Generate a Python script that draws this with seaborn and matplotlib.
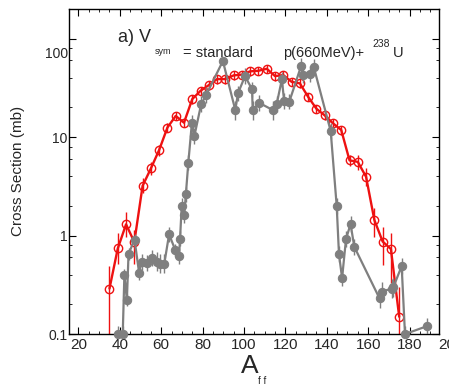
import matplotlib
matplotlib.use('Agg')
import matplotlib.pyplot as plt
import matplotlib.transforms as mtransforms
import numpy as np
import seaborn as sns
from matplotlib.ticker import MultipleLocator, LogLocator, FuncFormatter, NullFormatter

# calculation (open red circles)
red_a = [35, 39, 43, 47, 51, 55, 59, 63, 67, 71, 75, 79, 83, 87, 91, 95, 99, 103,
         107, 111, 115, 119, 123, 127, 131, 135, 139, 143, 147, 151, 155, 159, 163,
         167, 171, 175]
red_cs = [0.29, 0.74, 1.30, 0.86, 3.2, 4.8, 7.4, 12.5, 16.4, 14.0, 24.3, 29.5, 33.7,
          38.8, 38.8, 42.3, 43.1, 46.5, 47.1, 49.4, 41.6, 42.6, 36.4, 35.1, 25.6, 19.4,
          16.6, 13.8, 11.8, 5.8, 5.6, 3.95, 1.44, 0.87, 0.73, 0.15]
red_lo = [0.05, 0.52, 0.96, 0.51, 2.7, 4.1, 6.5, 11.2, 14.9, 12.6, 21.9, 26.6, 30.3,
          34.9, 34.9, 38.1, 38.8, 41.9, 42.4, 44.5, 37.4, 38.3, 32.8, 31.6, 23.0, 17.5,
          14.9, 12.4, 10.6, 5.1, 4.6, 3.2, 0.97, 0.50, 0.33, 0.05]
red_hi = [0.49, 1.05, 1.73, 1.14, 3.8, 5.6, 8.4, 14.0, 18.0, 15.4, 26.7, 32.4, 37.1,
          42.7, 42.7, 46.5, 47.4, 51.2, 51.8, 54.3, 45.8, 46.9, 40.0, 38.6, 28.2, 21.3,
          18.3, 15.2, 13.0, 6.6, 6.6, 4.8, 1.89, 1.23, 1.05, 0.30]

# experiment (filled grey circles)
gray_a = [39.3, 41.4, 42.2, 43.4, 44.2, 47.1, 49.3, 50.6, 53.0, 55.5,
          57.9, 59.5, 61.5, 63.8, 66.7, 68.6, 69.1, 69.9, 71.1, 71.9,
          73.1, 74.8, 76.0, 79.3, 81.7, 89.8, 95.8, 97.1, 100.5, 103.9,
          104.2, 107.3, 113.9, 115.8, 118.3, 119.4, 121.9, 127.6, 128.6, 131.9,
          133.7, 141.9, 144.8, 145.9, 147.4, 149.3, 151.5, 153.3, 165.5, 166.7,
          171.4, 172.2, 176.2, 177.8, 188.3]
gray_cs = [0.1, 0.1, 0.40, 0.22, 0.65, 0.91, 0.42, 0.54, 0.53, 0.59,
           0.54, 0.52, 0.52, 1.03, 0.72, 0.62, 0.93, 1.99, 1.61, 2.62,
           5.5, 13.8, 10.2, 21.6, 26.7, 59.2, 18.8, 27.8, 41.6, 30.5,
           18.8, 22.3, 18.8, 21.6, 38.5, 23.2, 22.9, 52.6, 42.6, 43.6,
           51.7, 11.5, 2.0, 0.65, 0.37, 0.92, 1.31, 0.77, 0.23, 0.27,
           0.29, 0.30, 0.49, 0.1, 0.12]
gray_err = [0.2, 0.2, 0.15, 0.15, 0.15, 0.15, 0.2, 0.2, 0.2, 0.2,
            0.25, 0.25, 0.25, 0.2, 0.15, 0.2, 0.2, 0.2, 0.2, 0.2,
            0.2, 0.2, 0.2, 0.2, 0.2, 0.1, 0.25, 0.2, 0.2, 0.2,
            0.25, 0.2, 0.25, 0.2, 0.2, 0.2, 0.2, 0.2, 0.2, 0.2,
            0.2, 0.2, 0.2, 0.2, 0.2, 0.2, 0.2, 0.2, 0.25, 0.25,
            0.25, 0.25, 0.2, 0.2, 0.2]

sns.set_style('ticks')
plt.rcParams['font.family'] = ['Liberation Sans', 'DejaVu Sans']

fig = plt.figure(figsize=(4.49, 3.88), dpi=100)
ax = fig.add_axes([0.154, 0.139, 0.824, 0.838])
ax.set_yscale('log')

red = '#ee1111'
grey = '#7f7f7f'

ax.vlines(red_a, red_lo, red_hi, color=red, lw=1.0, zorder=2)
sns.lineplot(x=red_a, y=red_cs, ax=ax, color=red, lw=1.7, marker='o',
             markersize=6, markerfacecolor='none', markeredgecolor=red,
             markeredgewidth=1.0, estimator=None, sort=False, zorder=3)

g = np.array(gray_cs)
e = np.array(gray_err)
ax.vlines(gray_a, g / (1 + e), g * (1 + e), color=grey, lw=1.0, zorder=4)
sns.lineplot(x=gray_a, y=gray_cs, ax=ax, color=grey, lw=1.6, marker='o',
             markersize=6, markerfacecolor=grey, markeredgecolor=grey,
             estimator=None, sort=False, zorder=5, clip_on=False)

ax.set_xlim(15.5, 194.3)
ax.set_ylim(0.1, 200)
ax.set_xlabel('')
ax.set_ylabel('')

ax.xaxis.set_major_locator(MultipleLocator(20))
ax.xaxis.set_minor_locator(MultipleLocator(5))
ax.yaxis.set_major_locator(LogLocator(base=10))
ax.yaxis.set_minor_locator(LogLocator(base=10, subs=[2, 4, 6, 8]))
ax.yaxis.set_major_formatter(FuncFormatter(lambda v, _: f'{v:g}'))
ax.yaxis.set_minor_formatter(NullFormatter())

ax.tick_params(which='both', direction='in', top=True, right=True, color='black')
ax.tick_params(which='major', length=5, width=0.8)
ax.tick_params(which='minor', length=2.5, width=0.6)
ax.tick_params(axis='x', labelsize=11, pad=3)
ax.tick_params(axis='y', labelsize=10, pad=1)
for s in ax.spines.values():
    s.set_color('black')
    s.set_linewidth(1.0)

ax.annotate('200', xy=(200, 0), xycoords=('data', 'axes fraction'),
            xytext=(0, -3), textcoords='offset points', ha='center', va='top',
            fontsize=11, annotation_clip=False)

fig.text(18 / 449, 1 - 171 / 388, 'Cross Section (mb)', rotation=90,
         ha='center', va='center', fontsize=11)
fig.text(250 / 449, 1 - 366 / 388, 'A', ha='center', va='center', fontsize=19)
fig.text(262 / 449, 1 - 381 / 388, 'f f', ha='center', va='center', fontsize=7)

fig.text(118 / 449, 1 - 42 / 388, 'a) V', fontsize=13, va='baseline')
fig.text(155 / 449, 1 - 54 / 388, 'sym', fontsize=6.5, va='baseline')
fig.text(183 / 449, 1 - 57 / 388, '= standard', fontsize=10.5, va='baseline')
fig.text(283 / 449, 1 - 57 / 388, 'p(660MeV)+', fontsize=10.5, va='baseline')
fig.text(372 / 449, 1 - 47 / 388, '238', fontsize=7.5, va='baseline')
fig.text(393 / 449, 1 - 57 / 388, 'U', fontsize=10.5, va='baseline')

# the "100" label sits a bit lower in the original
fig.canvas.draw()
shift = mtransforms.ScaledTranslation(0, -14 / 100, fig.dpi_scale_trans)
for t in ax.yaxis.get_major_ticks():
    if t.label1.get_text() == '100':
        t.label1.set_transform(t.label1.get_transform() + shift)

fig.savefig('out.png', dpi=100)
